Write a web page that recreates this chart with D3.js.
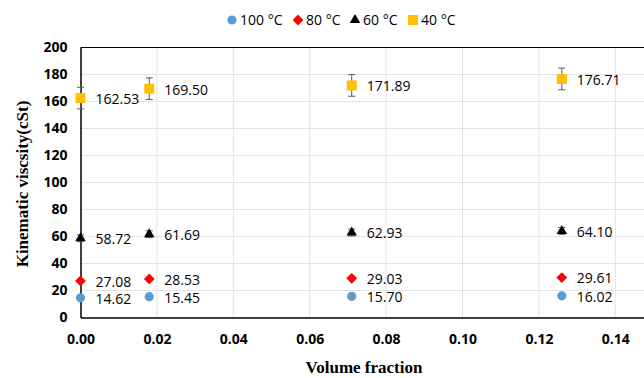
<!DOCTYPE html>
<html>
<head>
<meta charset="utf-8">
<script src="https://d3js.org/d3.v7.min.js"></script>
<style>
  body { margin: 0; background: #fff; }
  svg { display: block; overflow: hidden; }
</style>
</head>
<body>
<script>
// Data
var fractions = [0, 0.018, 0.071, 0.126];
var seriesNames = ['100 °C', '80 °C', '60 °C', '40 °C'];
var visc100 = [14.62, 15.45, 15.70, 16.02];
var visc80 = [27.08, 28.53, 29.03, 29.61];
var visc60 = [58.72, 61.69, 62.93, 64.10];
var visc40 = [162.53, 169.50, 171.89, 176.71];
var err60 = [2.5, 2.5, 2.5, 2.5];
var err40 = [8, 8, 8, 8];
var xTicks = [0, 0.02, 0.04, 0.06, 0.08, 0.10, 0.12, 0.14];
var yTicks = [0, 20, 40, 60, 80, 100, 120, 140, 160, 180, 200];

var series = [
  { name: seriesNames[0], values: visc100, err: null, color: '#5B9BD5', shape: 'circle' },
  { name: seriesNames[1], values: visc80, err: null, color: '#FF0000', shape: 'diamond' },
  { name: seriesNames[2], values: visc60, err: err60, color: '#000000', shape: 'triangle' },
  { name: seriesNames[3], values: visc40, err: err40, color: '#FFC000', shape: 'square' }
];

var W = 644, H = 378;
var plotLeft = 80.5, plotTop = 47.5, plotBottom = 317.5;

var svg = d3.select('body').
append('svg').
attr('width', W).
attr('height', H);

// scales (the x axis runs past the right edge of the picture)
var x = d3.scaleLinear().domain([0, 0.15]).range([plotLeft, plotLeft + 0.15 * 3820]);
var y = d3.scaleLinear().domain([0, 200]).range([plotBottom, plotTop]);

// gridlines
svg.append('g').
selectAll('line').
data(yTicks.slice(1, -1)).
enter().append('line').
attr('x1', plotLeft).attr('x2', x(0.15)).
attr('y1', function (d) {return y(d);}).
attr('y2', function (d) {return y(d);}).
attr('stroke', '#e3e3e3').attr('stroke-width', 1);

svg.append('g').
selectAll('line').
data(xTicks.slice(1)).
enter().append('line').
attr('x1', function (d) {return x(d);}).
attr('x2', function (d) {return x(d);}).
attr('y1', plotTop).attr('y2', plotBottom).
attr('stroke', '#e3e3e3').attr('stroke-width', 1);

// axes
var xAxis = d3.axisBottom(x).tickValues(xTicks).tickSize(0).tickPadding(17).
tickFormat(d3.format('.2f'));
var yAxis = d3.axisLeft(y).tickValues(yTicks).tickSize(0).tickPadding(13);

var gx = svg.append('g').
attr('transform', 'translate(0,' + plotBottom + ')').
call(xAxis);
var gy = svg.append('g').
attr('transform', 'translate(' + plotLeft + ',0)').
call(yAxis);

[gx, gy].forEach(function (g) {
  g.select('.domain').attr('stroke', '#000').attr('stroke-width', 1.5);
  g.selectAll('text').
  style('font-family', '"Open Sans", sans-serif').
  style('font-size', '14px').
  style('font-weight', 'bold').
  attr('fill', '#000');
});

// top border of plot area
svg.append('line').
attr('x1', plotLeft).attr('x2', x(0.15)).
attr('y1', plotTop).attr('y2', plotTop).
attr('stroke', '#000').attr('stroke-width', 1.2);

// axis titles
svg.append('text').
attr('x', 364).attr('y', 373).
attr('text-anchor', 'middle').
style('font-family', '"Liberation Serif", "Times New Roman", serif').
style('font-size', '17px').style('font-weight', 'bold').
text('Volume fraction');

svg.append('text').
attr('transform', 'translate(28,184) rotate(-90)').
attr('text-anchor', 'middle').
style('font-family', '"Liberation Serif", "Times New Roman", serif').
style('font-size', '17px').style('font-weight', 'bold').
text('Kinematic viscsity(cSt)');

function shapePath(shape) {
  if (shape === 'circle') return d3.symbol().type(d3.symbolCircle).size(66)();
  if (shape === 'triangle') return d3.symbol().type(d3.symbolTriangle).size(48)();
  if (shape === 'diamond') return d3.symbol().type(d3.symbolSquare).size(58)();
  return d3.symbol().type(d3.symbolSquare).size(100)();
}

// series
series.forEach(function (s) {
  var pts = s.values.map(function (v, i) {return { x: fractions[i], v: v, e: s.err ? s.err[i] : 0 };});
  var g = svg.append('g');

  if (s.err) {
    var eb = g.selectAll('.eb').data(pts).enter().append('g').attr('stroke', '#595959').attr('stroke-width', 1);
    eb.append('line').
    attr('x1', function (d) {return x(d.x);}).attr('x2', function (d) {return x(d.x);}).
    attr('y1', function (d) {return y(d.v + d.e);}).attr('y2', function (d) {return y(d.v - d.e);});
    eb.append('line').
    attr('x1', function (d) {return x(d.x) - 3.5;}).attr('x2', function (d) {return x(d.x) + 3.5;}).
    attr('y1', function (d) {return y(d.v + d.e);}).attr('y2', function (d) {return y(d.v + d.e);});
    eb.append('line').
    attr('x1', function (d) {return x(d.x) - 3.5;}).attr('x2', function (d) {return x(d.x) + 3.5;}).
    attr('y1', function (d) {return y(d.v - d.e);}).attr('y2', function (d) {return y(d.v - d.e);});
  }

  g.selectAll('.pt').data(pts).enter().append('path').
  attr('d', shapePath(s.shape)).
  attr('fill', s.color).
  attr('transform', function (d) {
    return 'translate(' + x(d.x) + ',' + y(d.v) + ')' + (s.shape === 'diamond' ? ' rotate(45)' : '');
  });

  g.selectAll('.lbl').data(pts).enter().append('text').
  attr('x', function (d) {return x(d.x) + 15;}).
  attr('y', function (d) {return y(d.v) + 1;}).
  attr('dy', '0.35em').
  style('font-family', '"Open Sans", sans-serif').
  style('font-size', '14px').
  attr('fill', '#000').
  text(function (d) {return d.v.toFixed(2);});
});

// legend
var legendX = [232, 298, 355, 413];
var legend = svg.append('g').selectAll('g').data(series).enter().append('g').
attr('transform', function (d, i) {return 'translate(' + legendX[i] + ',20)';});
legend.append('path').
attr('d', function (d) {return shapePath(d.shape);}).
attr('fill', function (d) {return d.color;}).
attr('transform', function (d) {return d.shape === 'diamond' ? 'rotate(45)' : null;});
legend.append('text').
attr('x', 8).attr('dy', '0.35em').
style('font-family', '"Open Sans", sans-serif').
style('font-size', '14px').
attr('fill', '#000').
text(function (d) {return d.name;});
</script>
</body>
</html>
